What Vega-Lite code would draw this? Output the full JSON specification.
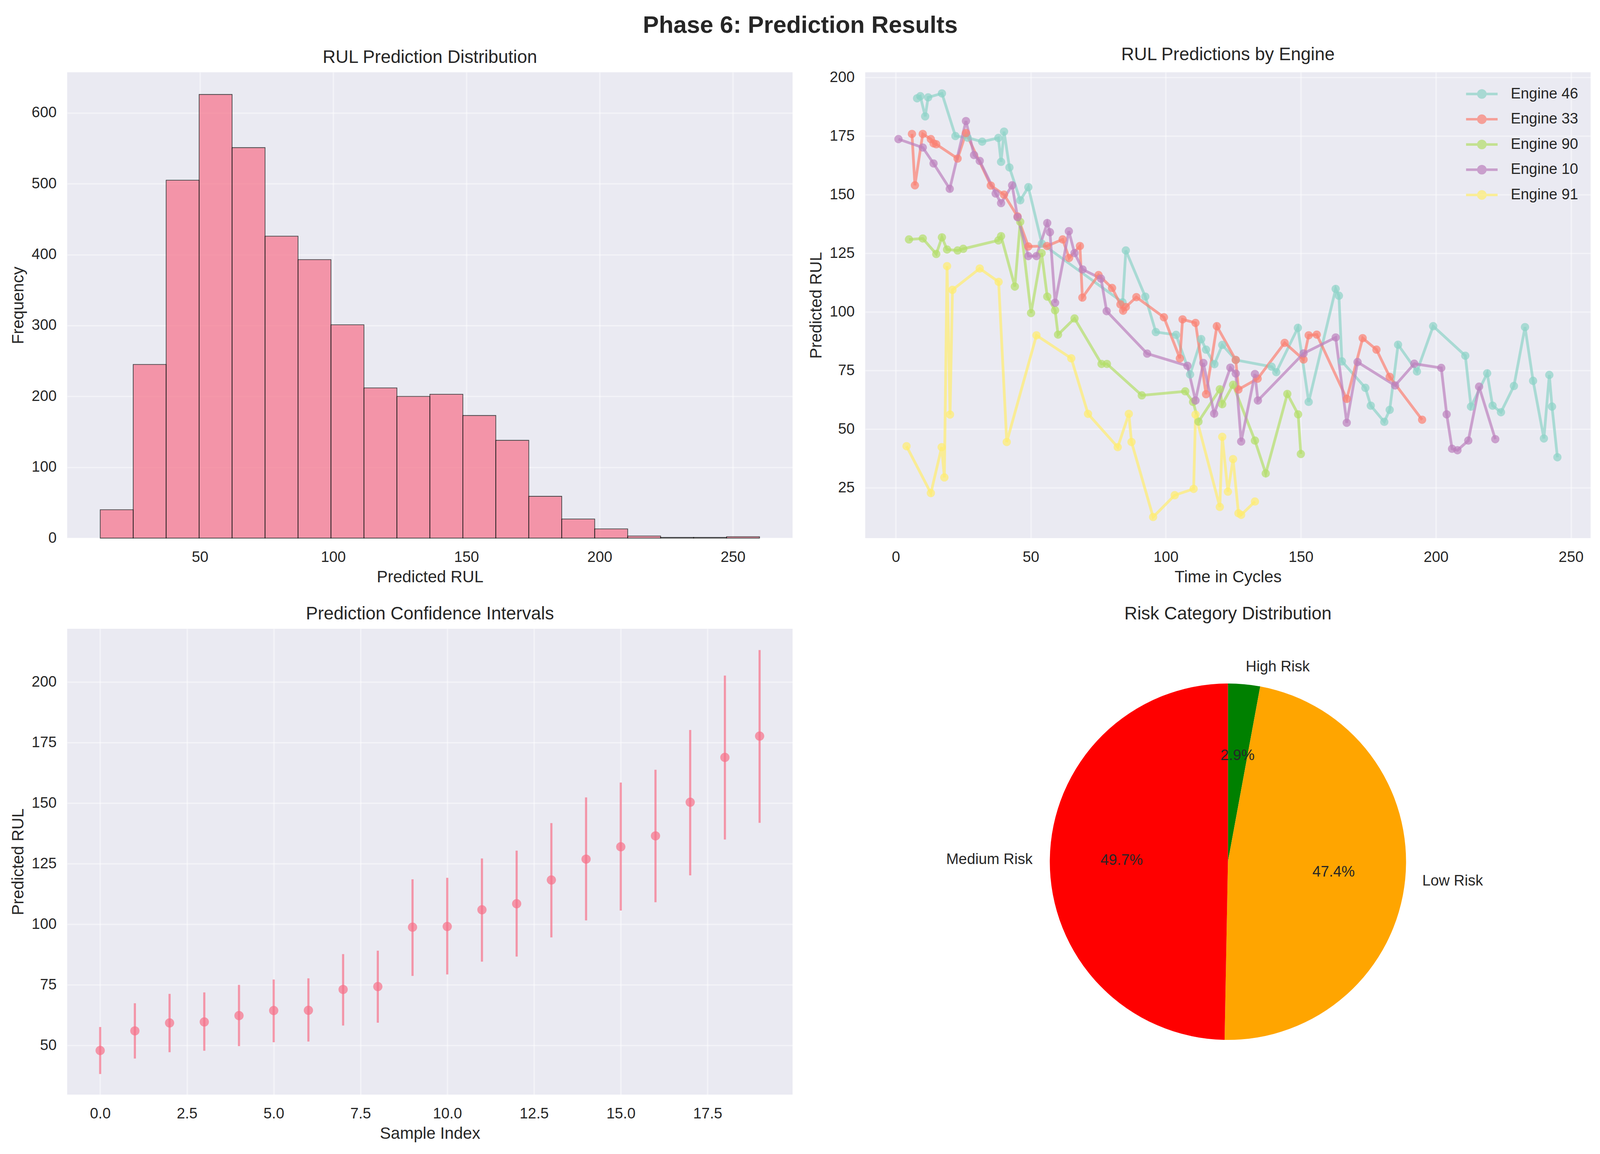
{
  "$schema": "https://vega.github.io/schema/vega-lite/v6.json",
  "background": "white",
  "padding": {"left": 25, "top": 35, "right": 28, "bottom": 20},
  "title": {
    "text": "Phase 6: Prediction Results",
    "fontSize": 61.2,
    "fontWeight": "bold",
    "anchor": "middle",
    "frame": "bounds",
    "offset": 20,
    "color": "#262626"
  },
  "config": {
    "font": "Liberation Sans",
    "view": {"fill": "#eaeaf2", "stroke": null},
    "title": {"fontSize": 45.9, "fontWeight": "normal", "color": "#262626", "offset": 14, "baseline": "alphabetic", "frame": "group", "anchor": "middle"},
    "axis": {
      "domain": false,
      "ticks": false,
      "labelFontSize": 38.3,
      "labelColor": "#262626",
      "titleFontSize": 42,
      "titleFontWeight": "normal",
      "titleColor": "#262626",
      "gridColor": "white",
      "gridOpacity": 0.45,
      "gridWidth": 3.7
    },
    "axisX": {"labelPadding": 30, "titlePadding": 12},
    "axisY": {"labelPadding": 27.5, "titlePadding": 12},
    "legend": {"labelFontSize": 38.3, "labelColor": "#262626", "labelLimit": 0}
  },
  "resolve": {"scale": {"color": "independent"}, "legend": {"color": "independent"}},
  "columns": 2,
  "spacing": {"row": 50, "column": 39},
  "concat": [
    {
      "title": "RUL Prediction Distribution",
      "width": 1857,
      "height": 1192,
      "data": {"values": [
        {"bin_start": 12.6, "bin_end": 24.97, "count": 40},
        {"bin_start": 24.97, "bin_end": 37.34, "count": 245},
        {"bin_start": 37.34, "bin_end": 49.71, "count": 505},
        {"bin_start": 49.71, "bin_end": 62.08, "count": 626},
        {"bin_start": 62.08, "bin_end": 74.45, "count": 551},
        {"bin_start": 74.45, "bin_end": 86.82, "count": 426},
        {"bin_start": 86.82, "bin_end": 99.19, "count": 393},
        {"bin_start": 99.19, "bin_end": 111.56, "count": 301},
        {"bin_start": 111.56, "bin_end": 123.93, "count": 212},
        {"bin_start": 123.93, "bin_end": 136.3, "count": 200},
        {"bin_start": 136.3, "bin_end": 148.67, "count": 203},
        {"bin_start": 148.67, "bin_end": 161.04, "count": 173},
        {"bin_start": 161.04, "bin_end": 173.41, "count": 138},
        {"bin_start": 173.41, "bin_end": 185.78, "count": 59},
        {"bin_start": 185.78, "bin_end": 198.15, "count": 27},
        {"bin_start": 198.15, "bin_end": 210.52, "count": 13},
        {"bin_start": 210.52, "bin_end": 222.89, "count": 3},
        {"bin_start": 222.89, "bin_end": 235.26, "count": 1},
        {"bin_start": 235.26, "bin_end": 247.63, "count": 1},
        {"bin_start": 247.63, "bin_end": 260.0, "count": 2}
      ]},
      "mark": {"type": "rect", "fill": "#f77189", "stroke": "black", "strokeWidth": 1.8, "opacity": 0.7},
      "encoding": {
        "x": {"field": "bin_start", "type": "quantitative", "title": "Predicted RUL",
              "scale": {"domain": [0.2, 272.4], "nice": false, "zero": false},
              "axis": {"values": [50, 100, 150, 200, 250]}},
        "x2": {"field": "bin_end"},
        "y": {"field": "count", "type": "quantitative", "title": "Frequency",
              "scale": {"domain": [0, 657.3], "nice": false},
              "axis": {"values": [0, 100, 200, 300, 400, 500, 600]}},
        "y2": {"datum": 0}
      }
    },
    {
      "title": "RUL Predictions by Engine",
      "width": 1857,
      "height": 1192,
      "data": {"values": [
        {"engine": "Engine 46", "cycle": 7.9, "rul": 191.1},
        {"engine": "Engine 46", "cycle": 9.1, "rul": 192.0},
        {"engine": "Engine 46", "cycle": 10.9, "rul": 183.4},
        {"engine": "Engine 46", "cycle": 12.0, "rul": 191.5},
        {"engine": "Engine 46", "cycle": 17.1, "rul": 193.2},
        {"engine": "Engine 46", "cycle": 22.1, "rul": 175.0},
        {"engine": "Engine 46", "cycle": 26.6, "rul": 174.3},
        {"engine": "Engine 46", "cycle": 32.0, "rul": 172.6},
        {"engine": "Engine 46", "cycle": 38.0, "rul": 174.2},
        {"engine": "Engine 46", "cycle": 39.0, "rul": 164.0},
        {"engine": "Engine 46", "cycle": 40.1, "rul": 176.9},
        {"engine": "Engine 46", "cycle": 42.1, "rul": 161.6},
        {"engine": "Engine 46", "cycle": 46.1, "rul": 147.6},
        {"engine": "Engine 46", "cycle": 49.1, "rul": 153.2},
        {"engine": "Engine 46", "cycle": 54.1, "rul": 129.1},
        {"engine": "Engine 46", "cycle": 84.0, "rul": 104.1},
        {"engine": "Engine 46", "cycle": 85.2, "rul": 126.2},
        {"engine": "Engine 46", "cycle": 92.4, "rul": 106.5},
        {"engine": "Engine 46", "cycle": 96.3, "rul": 91.4},
        {"engine": "Engine 46", "cycle": 103.8, "rul": 90.2},
        {"engine": "Engine 46", "cycle": 109.0, "rul": 73.3},
        {"engine": "Engine 46", "cycle": 113.1, "rul": 88.4},
        {"engine": "Engine 46", "cycle": 114.9, "rul": 83.9},
        {"engine": "Engine 46", "cycle": 118.0, "rul": 77.7},
        {"engine": "Engine 46", "cycle": 120.9, "rul": 85.9},
        {"engine": "Engine 46", "cycle": 125.9, "rul": 79.5},
        {"engine": "Engine 46", "cycle": 139.2, "rul": 76.6},
        {"engine": "Engine 46", "cycle": 140.9, "rul": 74.3},
        {"engine": "Engine 46", "cycle": 148.9, "rul": 93.2},
        {"engine": "Engine 46", "cycle": 152.9, "rul": 61.6},
        {"engine": "Engine 46", "cycle": 162.9, "rul": 109.8},
        {"engine": "Engine 46", "cycle": 164.1, "rul": 106.9},
        {"engine": "Engine 46", "cycle": 165.2, "rul": 78.9},
        {"engine": "Engine 46", "cycle": 173.9, "rul": 67.6},
        {"engine": "Engine 46", "cycle": 175.9, "rul": 60.0},
        {"engine": "Engine 46", "cycle": 180.9, "rul": 53.1},
        {"engine": "Engine 46", "cycle": 182.9, "rul": 58.2},
        {"engine": "Engine 46", "cycle": 186.0, "rul": 86.0},
        {"engine": "Engine 46", "cycle": 193.0, "rul": 74.6},
        {"engine": "Engine 46", "cycle": 199.0, "rul": 93.9},
        {"engine": "Engine 46", "cycle": 210.9, "rul": 81.3},
        {"engine": "Engine 46", "cycle": 213.0, "rul": 59.6},
        {"engine": "Engine 46", "cycle": 219.0, "rul": 73.8},
        {"engine": "Engine 46", "cycle": 221.0, "rul": 60.0},
        {"engine": "Engine 46", "cycle": 224.1, "rul": 57.2},
        {"engine": "Engine 46", "cycle": 228.9, "rul": 68.4},
        {"engine": "Engine 46", "cycle": 233.0, "rul": 93.5},
        {"engine": "Engine 46", "cycle": 236.0, "rul": 70.6},
        {"engine": "Engine 46", "cycle": 240.0, "rul": 46.0},
        {"engine": "Engine 46", "cycle": 242.0, "rul": 73.1},
        {"engine": "Engine 46", "cycle": 243.0, "rul": 59.6},
        {"engine": "Engine 46", "cycle": 245.0, "rul": 38.0},
        {"engine": "Engine 33", "cycle": 6.0, "rul": 175.9},
        {"engine": "Engine 33", "cycle": 7.1, "rul": 154.0},
        {"engine": "Engine 33", "cycle": 10.0, "rul": 175.9},
        {"engine": "Engine 33", "cycle": 13.0, "rul": 173.7},
        {"engine": "Engine 33", "cycle": 14.0, "rul": 171.9},
        {"engine": "Engine 33", "cycle": 15.0, "rul": 171.5},
        {"engine": "Engine 33", "cycle": 22.9, "rul": 165.4},
        {"engine": "Engine 33", "cycle": 26.0, "rul": 176.3},
        {"engine": "Engine 33", "cycle": 35.2, "rul": 153.9},
        {"engine": "Engine 33", "cycle": 40.1, "rul": 150.0},
        {"engine": "Engine 33", "cycle": 45.1, "rul": 140.7},
        {"engine": "Engine 33", "cycle": 49.1, "rul": 127.9},
        {"engine": "Engine 33", "cycle": 56.0, "rul": 128.1},
        {"engine": "Engine 33", "cycle": 61.8, "rul": 130.9},
        {"engine": "Engine 33", "cycle": 64.2, "rul": 123.0},
        {"engine": "Engine 33", "cycle": 68.2, "rul": 128.1},
        {"engine": "Engine 33", "cycle": 69.1, "rul": 106.1},
        {"engine": "Engine 33", "cycle": 75.1, "rul": 115.7},
        {"engine": "Engine 33", "cycle": 80.1, "rul": 110.2},
        {"engine": "Engine 33", "cycle": 83.2, "rul": 103.2},
        {"engine": "Engine 33", "cycle": 84.2, "rul": 100.5},
        {"engine": "Engine 33", "cycle": 85.2, "rul": 102.1},
        {"engine": "Engine 33", "cycle": 89.1, "rul": 106.3},
        {"engine": "Engine 33", "cycle": 99.3, "rul": 97.7},
        {"engine": "Engine 33", "cycle": 105.2, "rul": 80.2},
        {"engine": "Engine 33", "cycle": 106.2, "rul": 96.8},
        {"engine": "Engine 33", "cycle": 111.0, "rul": 95.3},
        {"engine": "Engine 33", "cycle": 114.9, "rul": 64.9},
        {"engine": "Engine 33", "cycle": 118.9, "rul": 93.9},
        {"engine": "Engine 33", "cycle": 125.9, "rul": 79.5},
        {"engine": "Engine 33", "cycle": 126.9, "rul": 66.9},
        {"engine": "Engine 33", "cycle": 134.0, "rul": 71.5},
        {"engine": "Engine 33", "cycle": 144.0, "rul": 86.8},
        {"engine": "Engine 33", "cycle": 151.0, "rul": 79.7},
        {"engine": "Engine 33", "cycle": 152.9, "rul": 90.0},
        {"engine": "Engine 33", "cycle": 155.9, "rul": 90.3},
        {"engine": "Engine 33", "cycle": 167.0, "rul": 62.9},
        {"engine": "Engine 33", "cycle": 172.9, "rul": 88.8},
        {"engine": "Engine 33", "cycle": 178.0, "rul": 83.9},
        {"engine": "Engine 33", "cycle": 182.9, "rul": 72.3},
        {"engine": "Engine 33", "cycle": 194.9, "rul": 54.0},
        {"engine": "Engine 90", "cycle": 4.9, "rul": 130.9},
        {"engine": "Engine 90", "cycle": 10.0, "rul": 131.3},
        {"engine": "Engine 90", "cycle": 15.0, "rul": 124.7},
        {"engine": "Engine 90", "cycle": 17.1, "rul": 131.8},
        {"engine": "Engine 90", "cycle": 19.0, "rul": 126.6},
        {"engine": "Engine 90", "cycle": 22.9, "rul": 126.2},
        {"engine": "Engine 90", "cycle": 25.0, "rul": 126.9},
        {"engine": "Engine 90", "cycle": 38.0, "rul": 130.5},
        {"engine": "Engine 90", "cycle": 39.0, "rul": 132.3},
        {"engine": "Engine 90", "cycle": 44.1, "rul": 110.8},
        {"engine": "Engine 90", "cycle": 46.1, "rul": 138.4},
        {"engine": "Engine 90", "cycle": 50.1, "rul": 99.5},
        {"engine": "Engine 90", "cycle": 54.0, "rul": 125.1},
        {"engine": "Engine 90", "cycle": 56.1, "rul": 106.5},
        {"engine": "Engine 90", "cycle": 59.0, "rul": 100.7},
        {"engine": "Engine 90", "cycle": 60.1, "rul": 90.3},
        {"engine": "Engine 90", "cycle": 66.2, "rul": 97.2},
        {"engine": "Engine 90", "cycle": 76.2, "rul": 77.8},
        {"engine": "Engine 90", "cycle": 78.2, "rul": 77.8},
        {"engine": "Engine 90", "cycle": 91.1, "rul": 64.4},
        {"engine": "Engine 90", "cycle": 107.2, "rul": 66.1},
        {"engine": "Engine 90", "cycle": 110.1, "rul": 61.6},
        {"engine": "Engine 90", "cycle": 112.1, "rul": 53.2},
        {"engine": "Engine 90", "cycle": 120.0, "rul": 67.0},
        {"engine": "Engine 90", "cycle": 120.9, "rul": 60.6},
        {"engine": "Engine 90", "cycle": 124.9, "rul": 68.9},
        {"engine": "Engine 90", "cycle": 133.0, "rul": 45.1},
        {"engine": "Engine 90", "cycle": 137.0, "rul": 31.1},
        {"engine": "Engine 90", "cycle": 145.0, "rul": 65.0},
        {"engine": "Engine 90", "cycle": 149.0, "rul": 56.3},
        {"engine": "Engine 90", "cycle": 150.0, "rul": 39.4},
        {"engine": "Engine 10", "cycle": 1.0, "rul": 173.7},
        {"engine": "Engine 10", "cycle": 10.0, "rul": 170.1},
        {"engine": "Engine 10", "cycle": 14.0, "rul": 163.3},
        {"engine": "Engine 10", "cycle": 20.0, "rul": 152.5},
        {"engine": "Engine 10", "cycle": 26.0, "rul": 181.4},
        {"engine": "Engine 10", "cycle": 29.0, "rul": 166.9},
        {"engine": "Engine 10", "cycle": 31.1, "rul": 164.4},
        {"engine": "Engine 10", "cycle": 37.0, "rul": 150.5},
        {"engine": "Engine 10", "cycle": 39.0, "rul": 146.4},
        {"engine": "Engine 10", "cycle": 43.1, "rul": 154.0},
        {"engine": "Engine 10", "cycle": 45.1, "rul": 140.4},
        {"engine": "Engine 10", "cycle": 49.1, "rul": 123.8},
        {"engine": "Engine 10", "cycle": 52.1, "rul": 123.8},
        {"engine": "Engine 10", "cycle": 56.1, "rul": 137.9},
        {"engine": "Engine 10", "cycle": 57.1, "rul": 134.0},
        {"engine": "Engine 10", "cycle": 59.0, "rul": 103.9},
        {"engine": "Engine 10", "cycle": 64.1, "rul": 134.4},
        {"engine": "Engine 10", "cycle": 66.2, "rul": 125.1},
        {"engine": "Engine 10", "cycle": 69.2, "rul": 118.1},
        {"engine": "Engine 10", "cycle": 76.0, "rul": 114.2},
        {"engine": "Engine 10", "cycle": 78.1, "rul": 100.3},
        {"engine": "Engine 10", "cycle": 93.1, "rul": 82.2},
        {"engine": "Engine 10", "cycle": 108.0, "rul": 77.0},
        {"engine": "Engine 10", "cycle": 111.0, "rul": 62.2},
        {"engine": "Engine 10", "cycle": 113.9, "rul": 78.2},
        {"engine": "Engine 10", "cycle": 117.9, "rul": 56.6},
        {"engine": "Engine 10", "cycle": 123.9, "rul": 76.2},
        {"engine": "Engine 10", "cycle": 125.9, "rul": 73.7},
        {"engine": "Engine 10", "cycle": 127.9, "rul": 44.7},
        {"engine": "Engine 10", "cycle": 133.0, "rul": 73.5},
        {"engine": "Engine 10", "cycle": 134.1, "rul": 62.2},
        {"engine": "Engine 10", "cycle": 151.0, "rul": 82.3},
        {"engine": "Engine 10", "cycle": 162.9, "rul": 89.1},
        {"engine": "Engine 10", "cycle": 167.0, "rul": 52.7},
        {"engine": "Engine 10", "cycle": 171.0, "rul": 78.6},
        {"engine": "Engine 10", "cycle": 184.9, "rul": 68.6},
        {"engine": "Engine 10", "cycle": 192.0, "rul": 77.9},
        {"engine": "Engine 10", "cycle": 202.0, "rul": 76.1},
        {"engine": "Engine 10", "cycle": 204.0, "rul": 56.3},
        {"engine": "Engine 10", "cycle": 206.0, "rul": 41.6},
        {"engine": "Engine 10", "cycle": 208.0, "rul": 41.0},
        {"engine": "Engine 10", "cycle": 212.0, "rul": 45.1},
        {"engine": "Engine 10", "cycle": 216.0, "rul": 68.1},
        {"engine": "Engine 10", "cycle": 222.0, "rul": 45.7},
        {"engine": "Engine 91", "cycle": 4.0, "rul": 42.7},
        {"engine": "Engine 91", "cycle": 13.0, "rul": 22.7},
        {"engine": "Engine 91", "cycle": 17.0, "rul": 42.3},
        {"engine": "Engine 91", "cycle": 18.0, "rul": 29.4},
        {"engine": "Engine 91", "cycle": 19.0, "rul": 119.5},
        {"engine": "Engine 91", "cycle": 20.1, "rul": 56.2},
        {"engine": "Engine 91", "cycle": 21.0, "rul": 109.4},
        {"engine": "Engine 91", "cycle": 31.1, "rul": 118.5},
        {"engine": "Engine 91", "cycle": 38.1, "rul": 112.8},
        {"engine": "Engine 91", "cycle": 41.1, "rul": 44.5},
        {"engine": "Engine 91", "cycle": 52.1, "rul": 90.0},
        {"engine": "Engine 91", "cycle": 65.0, "rul": 80.2},
        {"engine": "Engine 91", "cycle": 71.2, "rul": 56.5},
        {"engine": "Engine 91", "cycle": 82.2, "rul": 42.3},
        {"engine": "Engine 91", "cycle": 86.3, "rul": 56.5},
        {"engine": "Engine 91", "cycle": 87.3, "rul": 44.5},
        {"engine": "Engine 91", "cycle": 95.3, "rul": 12.5},
        {"engine": "Engine 91", "cycle": 103.3, "rul": 21.8},
        {"engine": "Engine 91", "cycle": 110.3, "rul": 24.5},
        {"engine": "Engine 91", "cycle": 111.0, "rul": 56.2},
        {"engine": "Engine 91", "cycle": 120.0, "rul": 16.8},
        {"engine": "Engine 91", "cycle": 120.9, "rul": 46.7},
        {"engine": "Engine 91", "cycle": 123.0, "rul": 23.3},
        {"engine": "Engine 91", "cycle": 124.9, "rul": 37.2},
        {"engine": "Engine 91", "cycle": 126.9, "rul": 14.1},
        {"engine": "Engine 91", "cycle": 127.9, "rul": 13.4},
        {"engine": "Engine 91", "cycle": 133.0, "rul": 19.1}
      ]},
      "mark": {"type": "line", "strokeWidth": 7, "opacity": 0.7,
               "point": {"filled": true, "size": 450, "opacity": 0.7}},
      "encoding": {
        "x": {"field": "cycle", "type": "quantitative", "title": "Time in Cycles",
              "scale": {"domain": [-11.3, 257.3], "nice": false, "zero": false},
              "axis": {"values": [0, 50, 100, 150, 200, 250]}},
        "y": {"field": "rul", "type": "quantitative", "title": "Predicted RUL",
              "scale": {"domain": [3.5, 202.2], "nice": false, "zero": false},
              "axis": {"values": [25, 50, 75, 100, 125, 150, 175, 200]}},
        "color": {"field": "engine", "type": "nominal",
                  "scale": {"domain": ["Engine 46", "Engine 33", "Engine 90", "Engine 10", "Engine 91"],
                            "range": ["#8dd3c7", "#fb8072", "#b3de69", "#bc80bd", "#ffed6f"]},
                  "legend": {
                    "title": null,
                    "orient": "top-right",
                    "offset": 32,
                    "padding": 0,
                    "symbolType": "M-2,0L2,0M0.45,0A0.45,0.45,0,1,1,-0.45,0A0.45,0.45,0,1,1,0.45,0Z",
                    "symbolSize": 1629,
                    "symbolStrokeWidth": 6.4,
                    "symbolOpacity": 0.7,
                    "labelOffset": 50.5,
                    "rowPadding": 18.6,
                    "encode": {"symbols": {"update": {
                      "fill": {"scale": "color", "field": "value"},
                      "stroke": {"scale": "color", "field": "value"}
                    }}}
                  }}
      }
    },
    {
      "title": "Prediction Confidence Intervals",
      "width": 1857,
      "height": 1192,
      "data": {"values": [
        {"idx": 0, "mean": 47.9, "lo": 38.2, "hi": 57.6},
        {"idx": 1, "mean": 56.0, "lo": 44.6, "hi": 67.4},
        {"idx": 2, "mean": 59.3, "lo": 47.2, "hi": 71.3},
        {"idx": 3, "mean": 59.7, "lo": 47.8, "hi": 71.9},
        {"idx": 4, "mean": 62.3, "lo": 49.7, "hi": 75.0},
        {"idx": 5, "mean": 64.4, "lo": 51.3, "hi": 77.2},
        {"idx": 6, "mean": 64.5, "lo": 51.6, "hi": 77.7},
        {"idx": 7, "mean": 73.1, "lo": 58.2, "hi": 87.7},
        {"idx": 8, "mean": 74.3, "lo": 59.4, "hi": 89.1},
        {"idx": 9, "mean": 98.8, "lo": 78.7, "hi": 118.6},
        {"idx": 10, "mean": 99.1, "lo": 79.3, "hi": 119.2},
        {"idx": 11, "mean": 106.0, "lo": 84.6, "hi": 127.2},
        {"idx": 12, "mean": 108.5, "lo": 86.7, "hi": 130.4},
        {"idx": 13, "mean": 118.3, "lo": 94.6, "hi": 141.8},
        {"idx": 14, "mean": 126.9, "lo": 101.6, "hi": 152.4},
        {"idx": 15, "mean": 132.0, "lo": 105.7, "hi": 158.5},
        {"idx": 16, "mean": 136.5, "lo": 109.1, "hi": 163.8},
        {"idx": 17, "mean": 150.4, "lo": 120.2, "hi": 180.2},
        {"idx": 18, "mean": 168.9, "lo": 135.0, "hi": 202.7},
        {"idx": 19, "mean": 177.7, "lo": 141.9, "hi": 213.2}
      ]},
      "encoding": {
        "x": {"field": "idx", "type": "quantitative", "title": "Sample Index",
              "scale": {"domain": [-0.95, 19.95], "nice": false, "zero": false},
              "axis": {"values": [0, 2.5, 5, 7.5, 10, 12.5, 15, 17.5], "format": ".1f"}}
      },
      "layer": [
        {
          "mark": {"type": "rule", "color": "#f77189", "strokeWidth": 5.5, "opacity": 0.7},
          "encoding": {
            "y": {"field": "lo", "type": "quantitative", "title": "Predicted RUL",
                  "scale": {"domain": [29.7, 222.0], "nice": false, "zero": false},
                  "axis": {"values": [50, 75, 100, 125, 150, 175, 200]}},
            "y2": {"field": "hi"}
          }
        },
        {
          "mark": {"type": "point", "filled": true, "color": "#f77189", "size": 560, "opacity": 0.7},
          "encoding": {
            "y": {"field": "mean", "type": "quantitative"}
          }
        }
      ]
    },
    {
      "title": "Risk Category Distribution",
      "width": 1857,
      "height": 1192,
      "view": {"fill": "white", "stroke": null},
      "data": {"values": [
        {"category": "High Risk", "pct": 2.9, "label": "2.9%", "ord": 1},
        {"category": "Low Risk", "pct": 47.4, "label": "47.4%", "ord": 2},
        {"category": "Medium Risk", "pct": 49.7, "label": "49.7%", "ord": 3}
      ]},
      "encoding": {
        "theta": {"field": "pct", "type": "quantitative", "stack": true},
        "order": {"field": "ord", "type": "quantitative"}
      },
      "layer": [
        {
          "mark": {"type": "arc", "outerRadius": 456},
          "encoding": {
            "color": {"field": "category", "type": "nominal", "legend": null,
                      "scale": {"domain": ["High Risk", "Low Risk", "Medium Risk"],
                                "range": ["#008000", "#ffa500", "#ff0000"]}}
          }
        },
        {
          "mark": {"type": "text", "radius": 272, "fontSize": 38.3, "color": "#262626", "align": "center", "baseline": "middle"},
          "encoding": {"text": {"field": "label"}}
        },
        {
          "mark": {"type": "text", "radius": 500, "fontSize": 38.3, "color": "#262626", "align": "left", "baseline": "middle"},
          "encoding": {"text": {"condition": {"test": "datum.category !== 'Medium Risk'", "field": "category"}, "value": ""}}
        },
        {
          "mark": {"type": "text", "radius": 500, "fontSize": 38.3, "color": "#262626", "align": "right", "baseline": "middle"},
          "encoding": {"text": {"condition": {"test": "datum.category === 'Medium Risk'", "field": "category"}, "value": ""}}
        }
      ]
    }
  ]
}
